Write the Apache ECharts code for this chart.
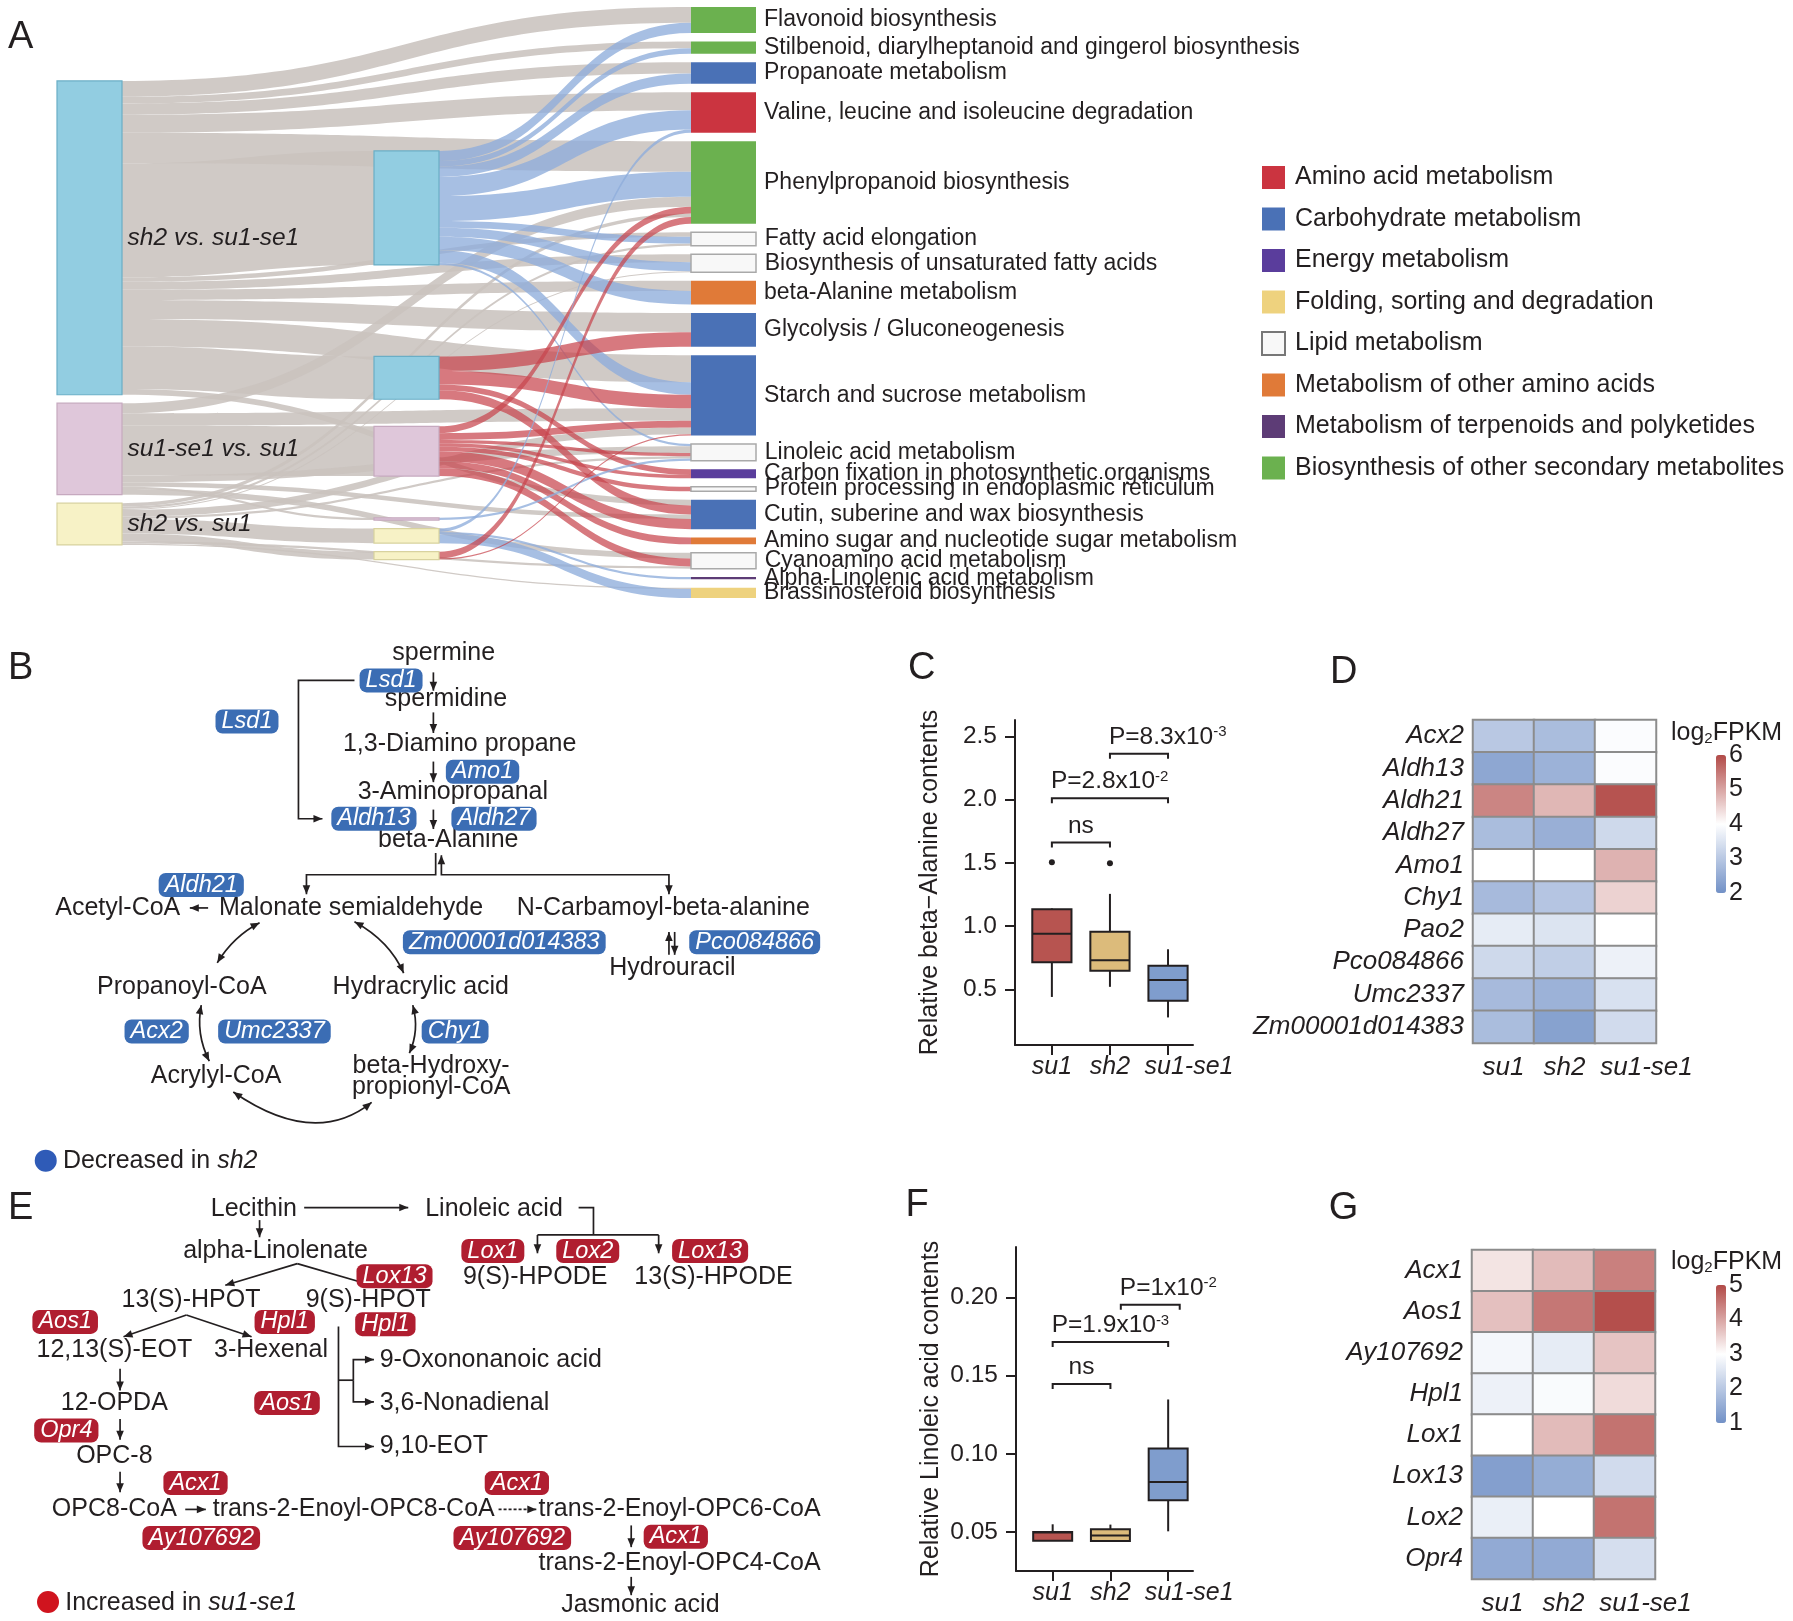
<!DOCTYPE html>
<html><head><meta charset="utf-8">
<script src="https://cdn.jsdelivr.net/npm/echarts@6/dist/echarts.min.js"></script>
<style>html,body{margin:0;padding:0;background:#fff}#main{width:1793px;height:1621px}</style>
</head><body><div id="main"></div>
<script>
// ================= DATA =================
// Panel A (sankey)
const comparisons = ['sh2 vs. su1-se1', 'su1-se1 vs. su1', 'sh2 vs. su1'];
const regulationNodes = ['sh2 vs. su1-se1 down', 'sh2 vs. su1-se1 up', 'su1-se1 vs. su1 up', 'su1-se1 vs. su1 down', 'sh2 vs. su1 down', 'sh2 vs. su1 up'];
const regulationParent = [0, 0, 1, 1, 2, 2];
const regulationDirection = ['down', 'up', 'up', 'down', 'down', 'up'];
const regulationSize = [101, 38, 44, 2, 13, 7];
const pathways = ['Flavonoid biosynthesis', 'Stilbenoid, diarylheptanoid and gingerol biosynthesis', 'Propanoate metabolism',
  'Valine, leucine and isoleucine degradation', 'Phenylpropanoid biosynthesis', 'Fatty acid elongation',
  'Biosynthesis of unsaturated fatty acids', 'beta-Alanine metabolism', 'Glycolysis / Gluconeogenesis',
  'Starch and sucrose metabolism', 'Linoleic acid metabolism', 'Carbon fixation in photosynthetic organisms',
  'Protein processing in endoplasmic reticulum', 'Cutin, suberine and wax biosynthesis',
  'Amino sugar and nucleotide sugar metabolism', 'Cyanoamino acid metabolism', 'Alpha-Linolenic acid metabolism',
  'Brassinosteroid biosynthesis'];
const pathwayClass = [7, 7, 1, 0, 7, 4, 4, 5, 1, 1, 4, 2, 4, 1, 5, 4, 6, 3];
const classes = ['Amino acid metabolism', 'Carbohydrate metabolism', 'Energy metabolism', 'Folding, sorting and degradation',
  'Lipid metabolism', 'Metabolism of other amino acids', 'Metabolism of terpenoids and polyketides',
  'Biosynthesis of other secondary metabolites'];
// [regulation index, pathway index, genes]
const regulationToPathway = [
  [0,0,9],[0,1,5],[0,2,9],[0,3,17],[0,4,22],[0,5,6],[0,6,8],[0,7,12],[0,9,11],[0,10,2],
  [1,8,13],[1,9,12],[1,11,5],[1,13,8],
  [2,4,6],[2,9,6],[2,10,3],[2,11,3],[2,12,4],[2,13,9],[2,14,6],[2,15,7],
  [3,10,2],
  [4,3,3],[4,16,2],[4,17,8],
  [5,4,6],[5,9,1]];
// [comparison index, pathway index, genes]
const comparisonToPathway = [
  [0,0,14],[0,1,6],[0,2,10],[0,3,16],[0,4,27],[0,5,4],[0,6,7],[0,7,9],[0,8,17],[0,9,24],[0,13,5],
  [1,4,9],[1,9,11],[1,10,6],[1,13,4],[1,15,5],
  [2,4,3],[2,5,2],[2,6,1],[2,9,6],[2,10,2],[2,15,2],[2,17,1]];

// Panels C / F (box plots): [min, Q1, median, Q3, max]
const groups = ['su1', 'sh2', 'su1-se1'];
const betaAlanineBoxes = [[0.44, 0.714, 0.94, 1.133, 1.14], [0.52, 0.648, 0.73, 0.956, 1.255], [0.278, 0.41, 0.574, 0.687, 0.817]];
const betaAlanineOutliers = [[1, 1.505], [2, 1.497]];
const betaAlanineTicks = [0.5, 1.0, 1.5, 2.0, 2.5];
const betaAlanineBrackets = [[1, 2, 1.661], [1, 3, 2.012], [2, 3, 2.363]];
const betaAlanineBracketLabels = [['ns', ''], ['P=2.8x10', '-2'], ['P=8.3x10', '-3']];
const linoleicBoxes = [[0.0443, 0.0443, 0.0497, 0.0500, 0.0549], [0.0442, 0.0442, 0.0477, 0.0517, 0.0547], [0.0504, 0.0703, 0.0819, 0.1034, 0.1348]];
const linoleicTicks = [0.05, 0.10, 0.15, 0.20];
const linoleicBrackets = [[1, 2, 0.1447], [1, 3, 0.1716], [2.18, 3.2, 0.1955]];
const linoleicBracketLabels = [['ns', ''], ['P=1.9x10', '-3'], ['P=1x10', '-2']];

// Panels D / G (heatmaps, log2FPKM)
const genesD = ['Acx2', 'Aldh13', 'Aldh21', 'Aldh27', 'Amo1', 'Chy1', 'Pao2', 'Pco084866', 'Umc2337', 'Zm00001d014383'];
const log2fpkmD = [[3.0, 2.8, 3.95], [2.4, 2.6, 3.95], [5.35, 4.8, 5.9], [2.8, 2.55, 3.3], [4.0, 4.0, 4.85],
  [2.75, 2.95, 4.5], [3.65, 3.5, 4.0], [3.3, 3.1, 3.75], [2.75, 2.6, 3.45], [2.8, 2.3, 3.35]];
const genesG = ['Acx1', 'Aos1', 'Ay107692', 'Hpl1', 'Lox1', 'Lox13', 'Lox2', 'Opr4'];
const log2fpkmG = [[3.3, 3.75, 4.4], [3.7, 4.5, 4.95], [2.85, 2.65, 3.65], [2.75, 2.92, 3.4], [3.0, 3.75, 4.55],
  [1.25, 1.5, 2.35], [2.7, 3.0, 4.55], [1.45, 1.45, 2.4]];

// ================= STYLE / LAYOUT =================
const INK = '#231f20';
const FONT = "'Liberation Sans', Arial, Helvetica, sans-serif";
const S = 1793 / 1568;
const classColors = ['#cb3440', '#4a71b6', '#5a3d9c', '#eed27e', '#f8f8f8', '#e07a38', '#5d3c76', '#6bb14f'];
const compColors = ['#92cde1', '#dfc7da', '#f7f2c6'];
const compBorders = ['#6aaec6', '#c6a9bf', '#d8d29f'];
const LINK_GRAY = '#c9c3be', LINK_BLUE = '#8eaddb', LINK_RED = '#c8454e';
const boxColors = ['#b75450', '#dcbb7b', '#7f9dcd'];
const BOX_W = 0.675;
const HM_BLUE = '#7291c7', HM_RED = '#b24a47';
const BADGE_BLUE = '#3b6db4', BADGE_RED = '#b01e30';
const LAST_LABEL_SHIFT = 42;
// transparent spacer nodes that reproduce the vertical placement of the strata
const leftSpacer = 58;
const middleSpacers = {'sh2 vs. su1-se1 down': 120, 'sh2 vs. su1-se1 up': 66, 'su1-se1 vs. su1 up': 9, 'su1-se1 vs. su1 down': 22};

// ================= SANKEY =================
let spacerCount = 0;
function spacer(depth, value) {
  spacerCount++;
  return {name: 'spacer-' + spacerCount, depth: depth, value: value, itemStyle: {color: 'rgba(0,0,0,0)', borderWidth: 0, opacity: 0}, label: {show: false}};
}
const sankeyNodes = [spacer(0, leftSpacer)];
comparisons.forEach((c, i) => sankeyNodes.push({name: c, depth: 0,
  itemStyle: {color: compColors[i], borderColor: compBorders[i], borderWidth: 1.2},
  label: {show: true, position: 'right', distance: 5, fontStyle: 'italic', fontSize: 24.5, color: INK, fontFamily: FONT}}));
regulationNodes.forEach((r, i) => {
  if (middleSpacers[r] != null) sankeyNodes.push(spacer(1, middleSpacers[r]));
  sankeyNodes.push({name: r, depth: 1, itemStyle: {color: compColors[regulationParent[i]], borderColor: compBorders[regulationParent[i]], borderWidth: 1.2}, label: {show: false}});
});
pathways.forEach((p, i) => {
  const k = pathwayClass[i];
  sankeyNodes.push({name: p, depth: 2,
    itemStyle: {color: classColors[k], borderColor: k === 4 ? '#a9a9a9' : classColors[k], borderWidth: k === 4 ? 1.5 : 0},
    label: {show: true, position: 'right', distance: 8, fontSize: 23, color: INK, fontFamily: FONT}});
});
const sankeyLinks = [];
regulationSize.forEach((v, i) => sankeyLinks.push({source: comparisons[regulationParent[i]], target: regulationNodes[i], value: v, lineStyle: {color: LINK_GRAY, opacity: 0.88}}));
comparisonToPathway.forEach(([c, p, v]) => sankeyLinks.push({source: comparisons[c], target: pathways[p], value: v, lineStyle: {color: LINK_GRAY, opacity: 0.88}}));
regulationToPathway.forEach(([r, p, v]) => sankeyLinks.push({source: regulationNodes[r], target: pathways[p], value: v,
  lineStyle: regulationDirection[r] === 'up' ? {color: LINK_RED, opacity: 0.72} : {color: LINK_BLUE, opacity: 0.78}}));

// ================= BOX / BRACKET RENDERERS =================
function boxRender(params, api) {
  const x = api.value(0);
  const lo = api.coord([x, api.value(1)]), q1 = api.coord([x, api.value(2)]), md = api.coord([x, api.value(3)]);
  const q3 = api.coord([x, api.value(4)]), hi = api.coord([x, api.value(5)]);
  const half = api.size([BOX_W, 0])[0] / 2;
  const st = {stroke: INK, lineWidth: 2};
  return {type: 'group', children: [
    {type: 'line', shape: {x1: lo[0], y1: lo[1], x2: q1[0], y2: q1[1]}, style: st},
    {type: 'line', shape: {x1: q3[0], y1: q3[1], x2: hi[0], y2: hi[1]}, style: st},
    {type: 'rect', shape: {x: q3[0] - half, y: q3[1], width: 2 * half, height: q1[1] - q3[1]}, style: {fill: boxColors[params.dataIndex], stroke: INK, lineWidth: 2}},
    {type: 'line', shape: {x1: md[0] - half, y1: md[1], x2: md[0] + half, y2: md[1]}, style: st}
  ]};
}
function bracketRender(labels) {
  return function (params, api) {
    const y = api.value(2);
    const a = api.coord([api.value(0), y]), b = api.coord([api.value(1), y]);
    const lab = labels[params.dataIndex];
    const isNs = !lab[1];
    const text = isNs ? lab[0] : lab[0] + '{s|' + lab[1] + '}';
    return {type: 'group', children: [
      {type: 'polyline', shape: {points: [[a[0], a[1] + 5], [a[0], a[1]], [b[0], b[1]], [b[0], b[1] + 5]]}, style: {stroke: INK, lineWidth: 2, fill: null}},
      {type: 'text', x: isNs ? (a[0] + b[0]) / 2 : a[0] - 1, y: a[1] - 4,
        style: {text: text, fontSize: 24.5, fontFamily: FONT, fill: INK, align: isNs ? 'center' : 'left', verticalAlign: 'bottom',
          rich: {s: {fontSize: 15, fontFamily: FONT, fill: INK, verticalAlign: 'top', lineHeight: 15}}}}
    ]};
  };
}

// ================= AXES =================
function groupLabel(name) {
  return groups.indexOf(name) === groups.length - 1 ? '{r|' + name + '}' : name;
}
function boxXAxis(gi) {
  return {gridIndex: gi, type: 'value', min: 0.365, max: 3.43,
    axisLine: {show: true, onZero: false, lineStyle: {color: INK, width: 2}},
    axisTick: {show: true, customValues: [1, 2, 3], length: 10, lineStyle: {color: INK, width: 2}},
    axisLabel: {show: true, customValues: [1, 2, 3], hideOverlap: false, formatter: v => groupLabel(groups[Math.round(v) - 1] || ''),
      fontStyle: 'italic', fontSize: 25, color: INK, margin: 10,
      rich: {r: {padding: [0, 0, 0, LAST_LABEL_SHIFT], fontStyle: 'italic', fontSize: 25, color: INK}}},
    splitLine: {show: false}};
}
function boxYAxis(gi, min, max, ticks, digits, name) {
  return {gridIndex: gi, type: 'value', min: min, max: max, name: name, nameLocation: 'middle', nameRotate: 90, nameGap: 72, nameMoveOverlap: false,
    nameTextStyle: {fontSize: 25, color: INK},
    axisLine: {show: true, onZero: false, lineStyle: {color: INK, width: 2}},
    axisTick: {show: true, customValues: ticks, length: 10, lineStyle: {color: INK, width: 2}},
    axisLabel: {show: true, customValues: ticks, hideOverlap: false, formatter: v => v.toFixed(digits), fontSize: 24.5, color: INK, margin: 18},
    splitLine: {show: false}};
}
function heatXAxis(gi) {
  return {gridIndex: gi, type: 'category', data: groups, axisLine: {show: false}, axisTick: {show: false}, splitLine: {show: false},
    axisLabel: {interval: 0, hideOverlap: false, formatter: v => groupLabel(v), fontStyle: 'italic', fontSize: 26, color: INK, margin: 12,
      rich: {r: {padding: [0, 0, 0, LAST_LABEL_SHIFT], fontStyle: 'italic', fontSize: 26, color: INK}}}};
}
function heatYAxis(gi, genes) {
  return {gridIndex: gi, type: 'category', data: genes, inverse: true, axisLine: {show: false}, axisTick: {show: false}, splitLine: {show: false},
    axisLabel: {interval: 0, hideOverlap: false, fontStyle: 'italic', fontSize: 26, color: INK, margin: 9}};
}
function barAxisY(gi, min, max) {
  return {gridIndex: gi, type: 'value', min: min, max: max, interval: 1, position: 'right', axisLine: {show: false}, axisTick: {show: false},
    splitLine: {show: false}, axisLabel: {fontSize: 25, color: INK, margin: 3}};
}
function heatData(genes, vals) {
  const out = [];
  genes.forEach((g, r) => groups.forEach((grp, c) => out.push([c, r, vals[r][c]])));
  return out;
}

// ================= DIAGRAM HELPERS (panels B, E) =================
function txt(str, x, y, o) {
  o = o || {};
  return {type: 'text', silent: true, x: x * S, y: y * S, z: 10,
    style: {text: str, fontFamily: FONT, fontSize: o.fs || 25, fontStyle: o.it ? 'italic' : 'normal', fill: INK,
      align: o.align || 'center', verticalAlign: 'middle', rich: o.rich}};
}
function badge(str, x, y, color) {
  return {type: 'text', silent: true, x: x * S, y: y * S, z: 11,
    style: {text: str, fontFamily: FONT, fontSize: 23.5, fontStyle: 'italic', fill: '#ffffff', backgroundColor: color,
      borderRadius: 7, padding: [2, 6, 0, 6], align: 'center', verticalAlign: 'middle', lineHeight: 22}};
}
function head(tx, ty, ang) {
  const L = 9, W = 3.8;
  const bx = tx - L * Math.cos(ang), by = ty - L * Math.sin(ang);
  const nx = -Math.sin(ang) * W, ny = Math.cos(ang) * W;
  return {type: 'polygon', silent: true, z: 10, shape: {points: [[tx, ty], [bx + nx, by + ny], [bx - nx, by - ny]]}, style: {fill: INK}};
}
function path(pts, o) {
  o = o || {};
  const q = pts.map(p => [p[0] * S, p[1] * S]);
  const els = [{type: 'polyline', silent: true, z: 10, shape: {points: q}, style: {stroke: INK, lineWidth: 1.7, fill: null, lineDash: o.dash || null}}];
  if (o.end !== false) { const a = q[q.length - 2], b = q[q.length - 1]; els.push(head(b[0], b[1], Math.atan2(b[1] - a[1], b[0] - a[0]))); }
  if (o.start) { const a = q[1], b = q[0]; els.push(head(b[0], b[1], Math.atan2(b[1] - a[1], b[0] - a[0]))); }
  return els;
}
function curve(p1, c, p2) {
  const a = [p1[0] * S, p1[1] * S], k = [c[0] * S, c[1] * S], b = [p2[0] * S, p2[1] * S];
  return [
    {type: 'bezierCurve', silent: true, z: 10, shape: {x1: a[0], y1: a[1], cpx1: k[0], cpy1: k[1], x2: b[0], y2: b[1]}, style: {stroke: INK, lineWidth: 1.7, fill: null}},
    head(b[0], b[1], Math.atan2(b[1] - k[1], b[0] - k[0])),
    head(a[0], a[1], Math.atan2(a[1] - k[1], a[0] - k[0]))
  ];
}
function dot(x, y, color) {
  return {type: 'circle', silent: true, shape: {cx: x * S, cy: y * S, r: 11}, style: {fill: color}};
}
const richItalic = {i: {fontStyle: 'italic', fontSize: 25, fontFamily: FONT, fill: INK, color: INK}};
const richLog = {a: {fontSize: 25, fontFamily: FONT, fill: INK, lineHeight: 26}, s: {fontSize: 15, fontFamily: FONT, fill: INK, verticalAlign: 'bottom', lineHeight: 12}};

const G = [];
const add = e => Array.isArray(e) ? e.forEach(x => G.push(x)) : G.push(e);
// panel letters
[['A', 18, 33], ['B', 18, 585], ['C', 806, 585], ['D', 1175, 588], ['E', 18, 1057], ['F', 802, 1054], ['G', 1175, 1057]]
  .forEach(([l, x, y]) => add(txt(l, x, y, {fs: 38})));
// log2FPKM titles
add({type: 'text', silent: true, x: 1671, y: 733, style: {text: '{a|log}{s|2}{a|FPKM}', rich: richLog, verticalAlign: 'middle', align: 'left'}});
add({type: 'text', silent: true, x: 1671, y: 1262, style: {text: '{a|log}{s|2}{a|FPKM}', rich: richLog, verticalAlign: 'middle', align: 'left'}});

// ---- Panel B ----
add(txt('spermine', 388, 571));
add(badge('Lsd1', 342, 595, BADGE_BLUE));
add(path([[379, 588], [379, 604]]));
add(txt('spermidine', 390, 611));
add(path([[379, 623], [379, 641]]));
add(txt('1,3-Diamino propane', 402, 651));
add(path([[379, 666], [379, 684]]));
add(badge('Amo1', 422, 675, BADGE_BLUE));
add(txt('3-Aminopropanal', 396, 693));
add(badge('Aldh13', 327, 716, BADGE_BLUE));
add(path([[379, 708], [379, 725]]));
add(badge('Aldh27', 432, 716, BADGE_BLUE));
add(txt('beta-Alanine', 392, 735));
add(path([[310, 595], [261, 595], [261, 716], [282, 716]]));
add(badge('Lsd1', 216, 631, BADGE_BLUE));
add(path([[381, 746], [381, 765], [268, 765], [268, 782]]));
add(path([[386, 748], [386, 765], [585, 765], [585, 782]], {start: true}));
add(badge('Aldh21', 176, 774, BADGE_BLUE));
add(txt('Acetyl-CoA', 103, 794));
add(path([[182, 794], [166, 794]]));
add(txt('Malonate semialdehyde', 307, 794));
add(txt('N-Carbamoyl-beta-alanine', 580, 794));
add(badge('Zm00001d014383', 441, 824, BADGE_BLUE));
add(path([[585, 835], [585, 815]]));
add(path([[590, 815], [590, 835]]));
add(badge('Pco084866', 660, 824, BADGE_BLUE));
add(txt('Hydrouracil', 588, 847));
add(curve([227, 807], [204, 819], [190, 842]));
add(curve([310, 806], [341, 823], [353, 851]));
add(txt('Propanoyl-CoA', 159, 863));
add(txt('Hydracrylic acid', 368, 863));
add(curve([176, 879], [171, 904], [183, 928]));
add(badge('Acx2', 137, 902, BADGE_BLUE));
add(badge('Umc2337', 240, 902, BADGE_BLUE));
add(curve([361, 879], [367, 901], [358, 921]));
add(badge('Chy1', 398, 902, BADGE_BLUE));
add(txt('Acrylyl-CoA', 189, 941));
add(txt('beta-Hydroxy-', 377, 932));
add(txt('propionyl-CoA', 377, 951));
add(curve([204, 955], [275, 1004], [325, 964]));
add(dot(40, 1015, '#2f5bb7'));
add(txt('Decreased in {i|sh2}', 55, 1015, {align: 'left', rich: richItalic}));

// ---- Panel E ----
add(txt('Lecithin', 222, 1057));
add(path([[266, 1056], [357, 1056]]));
add(txt('Linoleic acid', 432, 1057));
add(path([[506, 1056], [519, 1056], [519, 1080]], {end: false}));
add(path([[470, 1080], [576, 1080]], {end: false}));
add(path([[470, 1080], [470, 1096]]));
add(path([[576, 1080], [576, 1096]]));
add(badge('Lox1', 431, 1094, BADGE_RED));
add(badge('Lox2', 514, 1094, BADGE_RED));
add(badge('Lox13', 621, 1094, BADGE_RED));
add(txt('9(S)-HPODE', 468, 1117));
add(txt('13(S)-HPODE', 624, 1117));
add(path([[227, 1067], [227, 1082]]));
add(txt('alpha-Linolenate', 241, 1094));
add(path([[260, 1105], [197, 1124]]));
add(path([[260, 1105], [325, 1124]]));
add(badge('Lox13', 345, 1116, BADGE_RED));
add(txt('13(S)-HPOT', 167, 1137));
add(txt('9(S)-HPOT', 322, 1137));
add(badge('Aos1', 57, 1156, BADGE_RED));
add(badge('Hpl1', 249, 1156, BADGE_RED));
add(badge('Hpl1', 337, 1158, BADGE_RED));
add(path([[163, 1150], [108, 1169]]));
add(path([[163, 1150], [220, 1169]]));
add(txt('12,13(S)-EOT', 100, 1181));
add(txt('3-Hexenal', 237, 1181));
add(path([[296, 1160], [296, 1265], [327, 1265]]));
add(path([[296, 1207], [309, 1207]], {end: false}));
add(path([[309, 1207], [309, 1189], [327, 1189]]));
add(path([[309, 1207], [309, 1226], [327, 1226]]));
add(txt('9-Oxononanoic acid', 332, 1189, {align: 'left'}));
add(txt('3,6-Nonadienal', 332, 1227, {align: 'left'}));
add(txt('9,10-EOT', 332, 1265, {align: 'left'}));
add(badge('Aos1', 251, 1227, BADGE_RED));
add(path([[105, 1197], [105, 1216]]));
add(txt('12-OPDA', 100, 1227));
add(badge('Opr4', 58, 1251, BADGE_RED));
add(path([[105, 1241], [105, 1259]]));
add(txt('OPC-8', 100, 1273));
add(path([[105, 1287], [105, 1305]]));
add(badge('Acx1', 171, 1297, BADGE_RED));
add(txt('OPC8-CoA', 100, 1320));
add(path([[162, 1320], [180, 1320]]));
add(txt('trans-2-Enoyl-OPC8-CoA', 186, 1320, {align: 'left'}));
add(path([[436, 1320], [469, 1320]], {dash: [3, 2]}));
add(txt('trans-2-Enoyl-OPC6-CoA', 471, 1320, {align: 'left'}));
add(badge('Acx1', 452, 1297, BADGE_RED));
add(badge('Ay107692', 176, 1345, BADGE_RED));
add(badge('Ay107692', 448, 1345, BADGE_RED));
add(path([[552, 1334], [552, 1353]]));
add(badge('Acx1', 591, 1344, BADGE_RED));
add(txt('trans-2-Enoyl-OPC4-CoA', 471, 1367, {align: 'left'}));
add(path([[552, 1379], [552, 1395]]));
add(txt('Jasmonic acid', 560, 1404));
add(dot(42, 1401, '#d0141e'));
add(txt('Increased in {i|su1-se1}', 57, 1402, {align: 'left', rich: richItalic}));

// ================= OPTION =================
const series = [
  {type: 'sankey', left: 57, top: 7, right: 1037, bottom: 1023, nodeWidth: 65, nodeGap: 8.47, layoutIterations: 0,
    nodeAlign: 'left', draggable: false, emphasis: {disabled: true}, lineStyle: {curveness: 0.5},
    label: {fontFamily: FONT, color: INK}, data: sankeyNodes, links: sankeyLinks, z: 2},
  {type: 'custom', name: 'betaAlanineBox', xAxisIndex: 0, yAxisIndex: 0, clip: false, encode: {x: 0, y: [1, 2, 3, 4, 5]},
    data: betaAlanineBoxes.map((b, i) => [i + 1].concat(b)), renderItem: boxRender},
  {type: 'scatter', name: 'betaAlanineOutliers', xAxisIndex: 0, yAxisIndex: 0, data: betaAlanineOutliers, symbolSize: 6, itemStyle: {color: INK, opacity: 1}},
  {type: 'custom', name: 'betaAlanineP', xAxisIndex: 0, yAxisIndex: 0, clip: false, encode: {x: [0, 1], y: 2},
    data: betaAlanineBrackets, renderItem: bracketRender(betaAlanineBracketLabels)},
  {type: 'custom', name: 'linoleicBox', xAxisIndex: 1, yAxisIndex: 1, clip: false, encode: {x: 0, y: [1, 2, 3, 4, 5]},
    data: linoleicBoxes.map((b, i) => [i + 1].concat(b)), renderItem: boxRender},
  {type: 'custom', name: 'linoleicP', xAxisIndex: 1, yAxisIndex: 1, clip: false, encode: {x: [0, 1], y: 2},
    data: linoleicBrackets, renderItem: bracketRender(linoleicBracketLabels)},
  {type: 'heatmap', name: 'heatD', xAxisIndex: 2, yAxisIndex: 2, data: heatData(genesD, log2fpkmD),
    itemStyle: {borderColor: '#8c8c8c', borderWidth: 2}, emphasis: {disabled: true}},
  {type: 'heatmap', name: 'heatG', xAxisIndex: 3, yAxisIndex: 3, data: heatData(genesG, log2fpkmG),
    itemStyle: {borderColor: '#8c8c8c', borderWidth: 2}, emphasis: {disabled: true}}
];
function legendStyle(i) {
  return i === 4 ? {color: '#f8f8f8', borderColor: '#777', borderWidth: 2, opacity: 1} : {color: classColors[i], opacity: 1, borderWidth: 0};
}
classes.forEach((c, i) => series.push({type: 'scatter', name: c, xAxisIndex: 0, yAxisIndex: 0, data: [], itemStyle: legendStyle(i)}));

const option = {
  backgroundColor: '#ffffff',
  animation: false,
  textStyle: {fontFamily: FONT, color: INK},
  grid: [
    {left: 1015, top: 720, width: 178, height: 325},
    {left: 1016, top: 1247, width: 177, height: 324},
    {left: 1473, top: 720, width: 183, height: 323},
    {left: 1472, top: 1250, width: 183, height: 329},
    {left: 1716, top: 755, width: 10, height: 138},
    {left: 1716, top: 1285, width: 10, height: 138}
  ].map(g => Object.assign({containLabel: false, outerBoundsMode: 'none'}, g)),
  xAxis: [boxXAxis(0), boxXAxis(1), heatXAxis(2), heatXAxis(3),
    {gridIndex: 4, type: 'value', show: false, min: 0, max: 1}, {gridIndex: 5, type: 'value', show: false, min: 0, max: 1}],
  yAxis: [boxYAxis(0, 0.06, 2.63, betaAlanineTicks, 1, 'Relative beta\u2212Alanine contents'),
    boxYAxis(1, 0.025, 0.2324, linoleicTicks, 2, 'Relative Linoleic acid contents'),
    heatYAxis(2, genesD), heatYAxis(3, genesG), barAxisY(4, 2, 6), barAxisY(5, 1, 5)],
  visualMap: [
    {type: 'continuous', seriesIndex: 6, min: 2, max: 6, calculable: false, orient: 'vertical', left: 1716, top: 755,
      itemWidth: 10, itemHeight: 138, padding: 0, text: null, hoverLink: false, inRange: {color: [HM_BLUE, '#ffffff', HM_RED]}},
    {type: 'continuous', seriesIndex: 7, min: 1, max: 5, calculable: false, orient: 'vertical', left: 1716, top: 1285,
      itemWidth: 10, itemHeight: 138, padding: 0, text: null, hoverLink: false, inRange: {color: [HM_BLUE, '#ffffff', HM_RED]}}
  ],
  legend: {orient: 'vertical', left: 1256, top: 160, itemWidth: 23, itemHeight: 23, itemGap: 16.5, icon: 'rect', selectedMode: false,
    textStyle: {fontSize: 25, color: INK, fontFamily: FONT, padding: [0, 0, 0, 5]},
    data: classes.map((c, i) => ({name: c, itemStyle: legendStyle(i)}))},
  graphic: {elements: G},
  series: series
};
const chart = echarts.init(document.getElementById('main'), null, {renderer: 'canvas'});
chart.setOption(option);
</script></body></html>
